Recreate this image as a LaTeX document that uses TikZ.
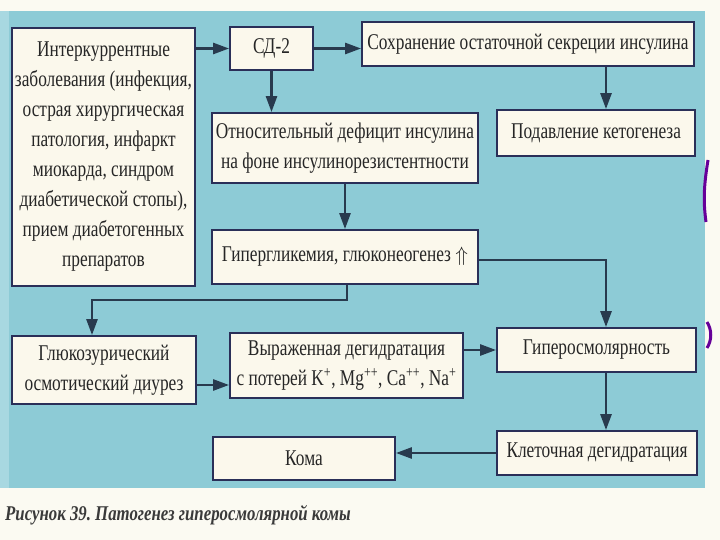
\documentclass[tikz,border=0pt]{standalone}
\usepackage{fontspec}
\setmainfont{Liberation Serif}[FakeStretch=0.77]
\newfontfamily\capfont{Liberation Serif}[FakeStretch=0.8]
\usetikzlibrary{arrows.meta}
\definecolor{bgblue}{HTML}{8DCBD6}
\definecolor{bgleft}{HTML}{A8D8E1}
\definecolor{paper}{HTML}{FBFAF2}
\definecolor{boxfill}{HTML}{FBF8EC}
\definecolor{boxline}{HTML}{2A2F58}
\definecolor{arrline}{HTML}{283A4E}
\definecolor{captxt}{HTML}{3A3A3A}
\tikzset{
  box/.style={draw=boxline, line width=1.8pt, fill=boxfill, inner sep=0pt,
    align=center, font=\fontsize{22.5}{30}\selectfont, text=black!85},
  link/.style={draw=arrline, line width=2.6pt,
    -{Triangle[length=16pt,width=11pt]}},
}
\begin{document}
\begin{tikzpicture}[x=1pt,y=-1pt]
\useasboundingbox (0,0) rectangle (720,540);
\fill[paper] (0,0) rectangle (720,540);
\fill[bgblue] (0,11) rectangle (705,488);
\fill[bgleft] (0,11) rectangle (9,488);
\draw[violet!80!blue, line width=3pt] (708,160) .. controls (704,185) and (703,200) .. (706,222);
\draw[violet!80!blue, line width=3pt] (707,322) .. controls (712,330) and (712,340) .. (707,348);

\node[box, minimum width=183pt, minimum height=258pt] (inter) at (103.5,157)
  {Интеркуррентные\\заболевания (инфекция,\\острая хирургическая\\патология, инфаркт\\миокарда, синдром\\диабетической стопы),\\прием диабетогенных\\препаратов};
\node[box, minimum width=83pt, minimum height=43pt] (sd) at (271.5,48.5) {СД-2};
\node[box, minimum width=332pt, minimum height=44pt] (soh) at (528,44) {Сохранение остаточной секреции инсулина};
\node[box, minimum width=266pt, minimum height=70pt] (otn) at (345,148) {Относительный дефицит инсулина\\на фоне инсулинорезистентности};
\node[box, minimum width=198pt, minimum height=46pt] (pod) at (596,133) {Подавление кетогенеза};
\node[box, minimum width=266pt, minimum height=54pt] (gip) at (345,257) {Гипергликемия, глюконеогенез $\Uparrow$};
\node[box, minimum width=184pt, minimum height=68pt] (gluk) at (104,370) {Глюкозурический\\осмотический диурез};
\node[box, minimum width=233pt, minimum height=65pt] (vyr) at (346.5,365.5) {Выраженная дегидратация\\с потерей K\textsuperscript{+}, Mg\textsuperscript{++}, Ca\textsuperscript{++}, Na\textsuperscript{+}};
\node[box, minimum width=199pt, minimum height=44pt] (gosm) at (596.5,350) {Гиперосмолярность};
\node[box, minimum width=200pt, minimum height=44pt] (klet) at (597,453) {Клеточная дегидратация};
\node[box, minimum width=182pt, minimum height=43pt] (koma) at (304,458.5) {Кома};

\node[font=\capfont\bfseries\itshape\fontsize{21}{24}\selectfont\frenchspacing, text=captxt, anchor=west, inner sep=0pt] (cap) at (5,515) {Рисунок 39. Патогенез гиперосмолярной комы};

\coordinate (rx) at (606,0);
\draw[link] (inter.east |- sd.west) -- (sd.west);
\draw[link] (sd.east) -- (sd.east -| soh.west);
\draw[link] (sd.south) -- (sd.south |- otn.north);
\draw[link] (soh.south -| rx) -- (pod.north -| rx);
\draw[link] (otn.south) -- (gip.north);
\draw[link] ([yshift=-3pt]gip.east) -| (gosm.north -| rx);
\draw[link] ([xshift=2pt]gip.south) -- ++(0,15) -| ([xshift=-12pt]gluk.north);
\draw[link] ([yshift=-15pt]gluk.east) -- ([yshift=-15pt]gluk.east -| vyr.west);
\draw[link] (vyr.east |- gosm.west) -- (gosm.west);
\draw[link] (gosm.south -| rx) -- (klet.north -| rx);
\draw[link] (klet.west) -- (klet.west -| koma.east);
\end{tikzpicture}
\end{document}
